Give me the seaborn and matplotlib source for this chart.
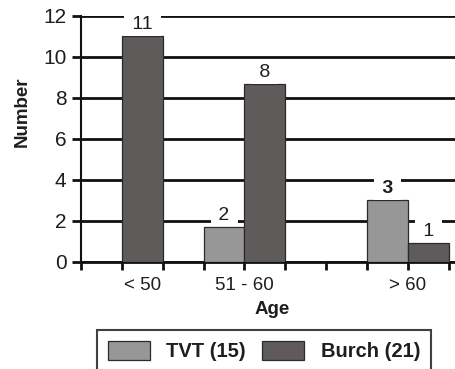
import pandas as pd
import matplotlib
matplotlib.use("Agg")
import matplotlib.pyplot as plt
import seaborn as sns

# ---------------------------------------------------------------- data
AGE_GROUPS = ["< 50", "51 - 60", "> 60"]
TVT_COUNT = [0.0, 1.7, 3.0]
BURCH_COUNT = [11.0, 8.65, 0.93]
TVT_LABELS = ["", "2", "3"]
BURCH_LABELS = ["11", "8", "1"]
SERIES = ["TVT", "Burch"]
LEGEND_LABELS = ["TVT (15)", "Burch (21)"]

# ---------------------------------------------------------------- layout
GROUP_X = [1, 4, 8]          # group centres on the axis
GROUP_LABEL_X = [1.5, 4, 8]  # where the category names sit
COLORS = {"TVT": "#979797", "Burch": "#5f5b5a"}
TEXT = "#1e1e1e"


def main() -> None:
    sns.set_style("white")
    plt.rcParams["font.family"] = ["Liberation Sans", "DejaVu Sans"]

    rows = []
    for gx, t, b in zip(GROUP_X, TVT_COUNT, BURCH_COUNT):
        rows.append({"x": gx, "series": "TVT", "count": t})
        rows.append({"x": gx, "series": "Burch", "count": b})
    df = pd.DataFrame(rows)

    fig = plt.figure(figsize=(4.55, 3.69), dpi=100)
    ax = fig.add_axes([0.178, 0.291, 0.822, 0.666])

    sns.barplot(data=df, x="x", y="count", hue="series", hue_order=SERIES,
                palette=COLORS, native_scale=True, width=2 / 3, errorbar=None,
                edgecolor="#2a2a2a", linewidth=0.9, saturation=1, ax=ax, zorder=3)

    handles, _ = ax.get_legend_handles_labels()
    ax.get_legend().remove()

    # value labels
    for gx, t, b, tl, bl in zip(GROUP_X, TVT_COUNT, BURCH_COUNT, TVT_LABELS, BURCH_LABELS):
        for xc, h, lab, bold in [(gx - 0.5, t, tl, tl == "3"), (gx + 0.5, b, bl, False)]:
            if not lab:
                continue
            ax.text(xc, h + 0.15, f" {lab} ", ha="center", va="bottom", fontsize=14,
                    fontweight="bold" if bold else "normal", color=TEXT, zorder=5,
                    bbox=dict(facecolor="white", edgecolor="none", pad=2.0))

    ax.set_ylim(0, 12)
    ax.set_xlim(0, 9.15)
    ax.set_yticks(range(0, 13, 2))
    ax.set_xticks(range(0, 10))
    ax.set_xticklabels([])
    ax.xaxis.remove_overlapping_locs = False
    ax.set_xticks(GROUP_LABEL_X, minor=True)
    ax.set_xticklabels(AGE_GROUPS, minor=True)

    ax.grid(False)
    ax.yaxis.grid(True, color="#111111", linewidth=2)
    ax.set_axisbelow(True)

    for side in ["top", "right"]:
        ax.spines[side].set_visible(False)
    ax.spines["left"].set_color("#111111")
    ax.spines["left"].set_linewidth(1.5)
    ax.spines["bottom"].set_color("#111111")
    ax.spines["bottom"].set_linewidth(2)

    ax.tick_params(axis="y", which="major", direction="out", length=6.5, width=2,
                   color="#111111", labelsize=15, labelcolor=TEXT, pad=4, left=True)
    ax.tick_params(axis="x", which="major", direction="out", length=6, width=2,
                   color="#111111", bottom=True)
    ax.tick_params(axis="x", which="minor", length=0, labelsize=13.5, labelcolor=TEXT, pad=11)

    ax.set_ylabel("Number", fontsize=13.5, fontweight="bold", color=TEXT)
    ax.set_xlabel("Age", fontsize=13.5, fontweight="bold", color=TEXT)
    ax.yaxis.set_label_coords(-0.135, 0.61)
    ax.xaxis.set_label_coords(0.512, -0.16)

    leg = fig.legend(handles, LEGEND_LABELS, loc="upper left", bbox_to_anchor=(0.213, 0.106),
                     ncol=2, frameon=True, fancybox=False, edgecolor="#111111",
                     prop={"size": 14.5, "weight": "bold"}, handlelength=2.1, handleheight=1.1,
                     columnspacing=0.8, handletextpad=0.8, borderpad=0.55, borderaxespad=0)
    leg.get_frame().set_linewidth(1.5)
    for txt in leg.get_texts():
        txt.set_color(TEXT)

    fig.savefig("out.png", dpi=100)
    plt.close(fig)


if __name__ == "__main__":
    main()
